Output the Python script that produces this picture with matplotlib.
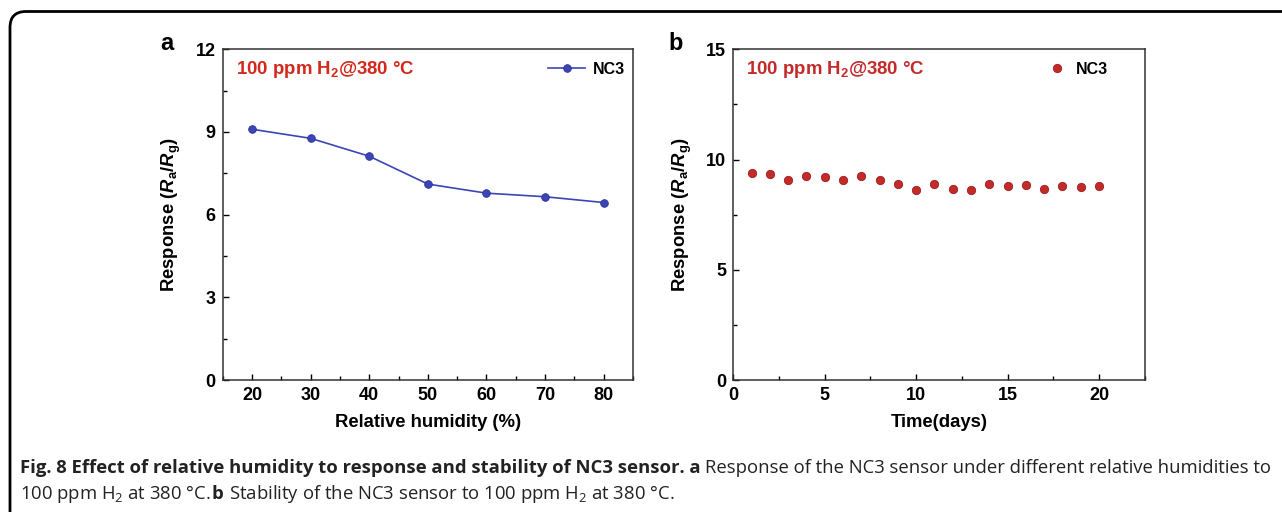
import matplotlib
matplotlib.use('Agg')
import matplotlib.pyplot as plt
from matplotlib.patches import FancyBboxPatch
from matplotlib.ticker import MultipleLocator

# panel a data: response vs relative humidity
humidity = [20, 30, 40, 50, 60, 70, 80]
resp_humidity = [9.10, 8.77, 8.12, 7.11, 6.78, 6.65, 6.44]

# panel b data: stability over 20 days
days = list(range(1, 21))
resp_days = [9.39, 9.36, 9.09, 9.24, 9.21, 9.06, 9.27, 9.09, 8.88, 8.64,
             8.89, 8.68, 8.61, 8.89, 8.80, 8.83, 8.68, 8.79, 8.76, 8.79]

plt.rcParams['font.family'] = 'Liberation Sans'
plt.rcParams['font.weight'] = 'bold'
plt.rcParams['mathtext.fontset'] = 'custom'
plt.rcParams['mathtext.rm'] = 'Liberation Sans:bold'
plt.rcParams['mathtext.it'] = 'Liberation Sans:bold:italic'
plt.rcParams['mathtext.bf'] = 'Liberation Sans:bold'
plt.rcParams['mathtext.sf'] = 'Open Sans:normal'

blue = '#3b45b5'
red_a = '#d3281c'
red_b = '#c32a2a'

fig = plt.figure(figsize=(12.82, 5.12), dpi=100)

# rounded frame around the figure (cropped at right/bottom)
frame = FancyBboxPatch((0.10, -1.0), 20, 6.005, boxstyle='round,pad=0,rounding_size=0.16',
                       transform=fig.dpi_scale_trans, fill=False, lw=2.0, ec='black')
fig.patches.append(frame)

ax1 = fig.add_axes([0.1737, 0.2578, 0.3201, 0.6459])
ax2 = fig.add_axes([0.5720, 0.2578, 0.3209, 0.6459])


def style(ax):
    for s in ax.spines.values():
        s.set_linewidth(1.1)
        s.set_color('#333333')
    ax.tick_params(which='both', direction='in', top=False, right=False,
                   labelsize=13, pad=5, width=1.0)
    ax.tick_params(which='major', length=4)
    ax.tick_params(which='minor', length=3)
    for lab in ax.get_xticklabels() + ax.get_yticklabels():
        lab.set_fontweight('bold')


ylab = r'Response ($R_\mathrm{a}$/$R_\mathrm{g}$)'

# panel a
ax1.plot(humidity, resp_humidity, '-o', color=blue, lw=1.2, ms=5.5,
         mfc=blue, mec='#2a3290', mew=0.6, label='NC3')
ax1.set_xlim(15, 85)
ax1.set_ylim(0, 12)
ax1.xaxis.set_major_locator(MultipleLocator(10))
ax1.xaxis.set_minor_locator(MultipleLocator(5))
ax1.yaxis.set_major_locator(MultipleLocator(3))
ax1.yaxis.set_minor_locator(MultipleLocator(1.5))
style(ax1)
ax1.set_xlabel('Relative humidity (%)', fontsize=13.3, fontweight='bold', labelpad=7)
ax1.set_ylabel(ylab, fontsize=13.3, fontweight='bold', labelpad=9)
ax1.text(0.032, 0.94, r'100 ppm H$_2$@380 °C', transform=ax1.transAxes,
         color=red_a, fontsize=13.4, fontweight='bold', va='center')
ax1.legend(loc='upper right', bbox_to_anchor=(1.012, 1.0), frameon=False, fontsize=11.5,
           handlelength=2.3, handletextpad=0.5, borderaxespad=0.4)

# panel b
ax2.plot(days, resp_days, 'o', color=red_b, ms=6, mec='#a01e1e', mew=0.6, label='NC3')
ax2.set_xlim(0, 22.5)
ax2.set_ylim(0, 15)
ax2.xaxis.set_major_locator(MultipleLocator(5))
ax2.xaxis.set_minor_locator(MultipleLocator(2.5))
ax2.yaxis.set_major_locator(MultipleLocator(5))
ax2.yaxis.set_minor_locator(MultipleLocator(2.5))
style(ax2)
ax2.set_xlabel('Time(days)', fontsize=13.3, fontweight='bold', labelpad=7)
ax2.set_ylabel(ylab, fontsize=13.3, fontweight='bold', labelpad=9)
ax2.text(0.032, 0.94, r'100 ppm H$_2$@380 °C', transform=ax2.transAxes,
         color=red_b, fontsize=13.4, fontweight='bold', va='center')
ax2.legend(loc='upper right', bbox_to_anchor=(0.942, 1.0), frameon=False, fontsize=11.5,
           handletextpad=0.2, borderaxespad=0.4)

# panel letters
fig.text(160 / 1282, 1 - 43 / 512, 'a', fontsize=17, fontweight='bold', va='center', ha='left')
fig.text(668 / 1282, 1 - 43 / 512, 'b', fontsize=17, fontweight='bold', va='center', ha='left')

# caption, written piece by piece so bold and regular runs can mix
renderer = fig.canvas.get_renderer()
W = fig.get_figwidth() * fig.dpi


def run(x, y, s, weight='normal', size=13.3):
    t = fig.text(x, y, s, fontsize=size, fontweight=weight, family='Open Sans',
                 va='baseline', ha='left', color='#222222')
    return x + t.get_window_extent(renderer).width / W


y1 = 1 - 473 / 512
y2 = 1 - 499 / 512
x = 20 / 1282
x = run(x, y1, 'Fig. 8 Effect of relative humidity to response and stability of NC3 sensor. a ', 'bold')
run(x, y1, 'Response of the NC3 sensor under different relative humidities to')
x = 20 / 1282
x = run(x, y2, r'100 ppm H$_\mathsf{2}$ at 380 °C. ')
x = run(x, y2, 'b ', 'bold')
run(x, y2, r'Stability of the NC3 sensor to 100 ppm H$_\mathsf{2}$ at 380 °C.')

fig.savefig('out.png', dpi=100)
